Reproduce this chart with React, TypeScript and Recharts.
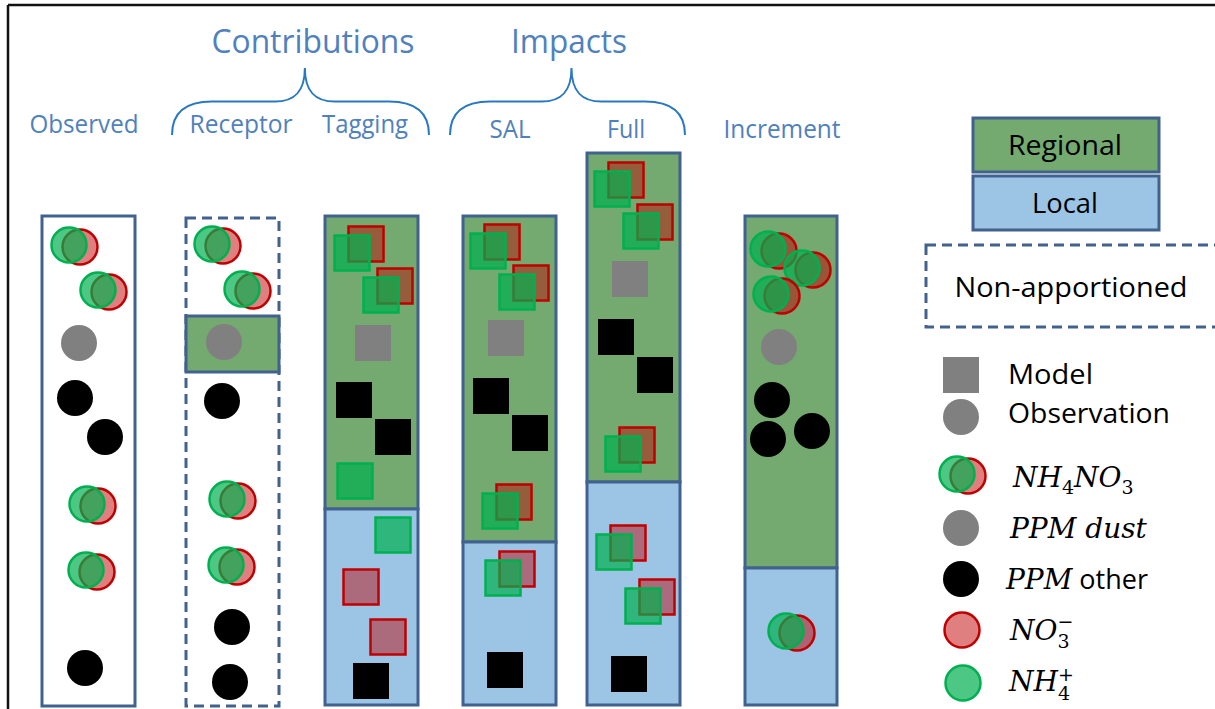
import React from 'react';
import { ScatterChart, Scatter, XAxis, YAxis, ReferenceArea, ReferenceLine } from 'recharts';

const W = 1215;
const H = 709;

// diagram columns (x across, y counted down from the top edge)
const columnNames = ['Observed', 'Receptor', 'Tagging', 'SAL', 'Full', 'Increment'];
const columnLeft = [42, 186, 325, 463, 587, 745];
const columnRight = [135, 279, 418, 556, 680, 837];
const columnTop = [216, 218, 216, 216, 153, 216];
const columnBottom = [706, 706, 705, 705, 705, 705];
// regional part ends / local part starts (0 = no split)
const columnSplit = [0, 0, 509, 542, 482, 568];
const receptorRegional = [316, 372];
const columnLabelX = [84, 241, 365, 510, 626, 782];
const columnLabelY = [133, 133, 133, 138, 138, 138];

const groupNames = ['Contributions', 'Impacts'];
const groupLabelX = [313, 569];
const groupLabelY = [53, 53];
const braceFrom = [172, 450];
const braceTo = [429, 685];
const braceTop = 68;
const braceBottom = 135;

// key boxes on the right
const keyBoxNames = ['Regional', 'Local', 'Non-apportioned'];
const keyBoxLeft = [973, 973, 926];
const keyBoxRight = [1159, 1159, 1225];
const keyBoxTop = [118, 176, 245];
const keyBoxBottom = [172, 230, 327];
const keyBoxLabelX = [1065, 1065, 1071];
const keyBoxLabelY = [155, 213, 297];

// observations (circles). NH4NO3 = green NH4+ circle with NO3- circle behind it
const obsNh4no3 = [
  [69, 245], [98, 290], [87, 504], [86, 570],
  [212, 244], [242, 289], [227, 499], [226, 565],
  [768, 249], [802, 268], [771, 294], [786, 631],
];
const obsDust = [[79, 343], [224, 342], [779, 347]];
const obsOther = [
  [75, 398], [105, 437], [85, 668],
  [222, 401], [232, 627], [230, 682],
  [772, 400], [768, 439], [812, 431],
];

// model (squares)
const modNh4no3 = [
  [352, 253], [381, 295],
  [488, 251], [517, 292], [500, 511], [503, 578],
  [612, 189], [641, 231], [623, 454], [614, 552], [643, 606],
];
const modNh4 = [[355, 481], [393, 535]];
const modNo3 = [[361, 587], [388, 637]];
const modDust = [[373, 343], [506, 338], [630, 279]];
const modOther = [
  [354, 400], [393, 437], [371, 681],
  [491, 396], [530, 433], [505, 670],
  [616, 337], [655, 375], [629, 674],
];

// legend symbols
const keyModel = [[961, 375]];
const keyGrey = [[961, 417], [961, 528]];
const keyPair = [[957, 474]];
const keyOther = [[961, 579]];
const keyNo3 = [[962, 630]];
const keyNh4 = [[963, 683]];
const legendText = ['Model', 'Observation', 'NH4NO3', 'PPM dust', 'PPM other', 'NO3-', 'NH4+'];
const legendTextX = [1008, 1008, 1013, 1010, 1006, 1010, 1009];
const legendTextY = [384, 423, 487, 538, 589, 640, 691];

const GREEN_BG = '#74a96f';
const BLUE_BG = '#9cc4e4';
const EDGE = '#41628f';
const TITLE = '#4f81bd';
const BRACE = '#2a78c2';
const RED = '#c00000';
const GREEN = '#00b050';
const GREY = '#808080';
const SANS = "'Open Sans', sans-serif";
const MATH = "'DejaVu Serif', serif";

const fit: Record<string, number> = {
  Contributions: 203, Impacts: 116, Observed: 109, Receptor: 103, Tagging: 86, SAL: 41,
  Full: 38, Increment: 117, Regional: 114, Local: 66, 'Non-apportioned': 233,
  Model: 85, Observation: 162,
};

const toPts = (a: number[][]) => a.map(([x, y]) => ({ x, y }));
const concat = (...a: number[][][]) => toPts(a.flat());

const blackCircle = (p: any) => <circle cx={p.cx} cy={p.cy} r={18} fill="#000" />;
const greyCircle = (p: any) => <circle cx={p.cx} cy={p.cy} r={18} fill={GREY} />;
const no3Circle = (p: any) => (
  <circle cx={p.cx} cy={p.cy} r={17.5} fill={RED} fillOpacity={0.5} stroke={RED} strokeWidth={2.5} />
);
const nh4Circle = (p: any) => (
  <circle cx={p.cx} cy={p.cy} r={17.5} fill={GREEN} fillOpacity={0.7} stroke={GREEN} strokeWidth={2.5} />
);
const pairCircle = (p: any) => (
  <g>
    {no3Circle({ cx: p.cx + 11, cy: p.cy + 2 })}
    {nh4Circle(p)}
  </g>
);

const plainSquare = (fill: string) => (p: any) => (
  <rect x={p.cx - 18} y={p.cy - 18} width={36} height={36} fill={fill} />
);
const no3Square = (p: any) => (
  <rect x={p.cx - 17.5} y={p.cy - 17.5} width={35} height={35} fill={RED} fillOpacity={0.45} stroke={RED} strokeWidth={2.5} />
);
const nh4Square = (p: any) => (
  <rect x={p.cx - 17.5} y={p.cy - 17.5} width={35} height={35} fill={GREEN} fillOpacity={0.7} stroke={GREEN} strokeWidth={2.5} />
);
const pairSquare = (p: any) => (
  <g>
    {no3Square({ cx: p.cx + 14, cy: p.cy - 9 })}
    {nh4Square(p)}
  </g>
);

const textShape = (color: string, size: number) => (p: any) => {
  const t = p.payload.text;
  return (
    <text x={p.cx} y={p.cy} textAnchor="middle" fontFamily={SANS} fontSize={size} fill={color}
      textLength={fit[t]} lengthAdjust="spacingAndGlyphs">
      {t}
    </text>
  );
};

const legendShape = (p: any) => {
  const t = p.payload.text;
  const x = p.cx;
  const y = p.cy;
  if (t === 'NH4NO3') {
    return (
      <text x={x} y={y} fontFamily={MATH} fontSize={28} fill="#000">
        <tspan fontStyle="italic">NH</tspan>
        <tspan fontSize={19} dy={7}>4</tspan>
        <tspan fontStyle="italic" dy={-7}>NO</tspan>
        <tspan fontSize={19} dy={7}>3</tspan>
      </text>
    );
  }
  if (t === 'PPM dust') {
    return <text x={x} y={y} fontFamily={MATH} fontStyle="italic" fontSize={28} fill="#000">PPM dust</text>;
  }
  if (t === 'PPM other') {
    return (
      <text x={x} y={y} fontSize={28} fill="#000">
        <tspan fontFamily={MATH} fontStyle="italic">PPM</tspan>
        <tspan fontFamily={SANS} fontSize={27}> other</tspan>
      </text>
    );
  }
  if (t === 'NO3-') {
    return (
      <text x={x} y={y} fontFamily={MATH} fontSize={28} fill="#000">
        <tspan fontStyle="italic">NO</tspan>
        <tspan fontSize={19} dy={8}>3</tspan>
        <tspan fontSize={19} dx={-12} dy={-20}>−</tspan>
      </text>
    );
  }
  if (t === 'NH4+') {
    return (
      <text x={x} y={y} fontFamily={MATH} fontSize={28} fill="#000">
        <tspan fontStyle="italic">NH</tspan>
        <tspan fontSize={19} dy={9}>4</tspan>
        <tspan fontSize={19} dx={-12} dy={-19}>+</tspan>
      </text>
    );
  }
  return (
    <text x={x} y={y} fontFamily={SANS} fontSize={27} fill="#000" textLength={fit[t]} lengthAdjust="spacingAndGlyphs">
      {t}
    </text>
  );
};

const braceShape = (p: any) => {
  const x0 = p.x;
  const x1 = p.x + p.width;
  const y0 = p.y;
  const y1 = p.y + p.height;
  const yh = (y0 + y1) / 2;
  const xm = x0 + p.width * 0.517;
  const d = `M ${x0} ${y1} C ${x0} ${yh + 12} ${x0 + 12} ${yh} ${x0 + 40} ${yh} L ${xm - 30} ${yh} C ${xm - 10} ${yh} ${xm} ${yh - 10} ${xm} ${y0} C ${xm} ${yh - 10} ${xm + 10} ${yh} ${xm + 30} ${yh} L ${x1 - 40} ${yh} C ${x1 - 12} ${yh} ${x1} ${yh + 12} ${x1} ${y1}`;
  return <path d={d} fill="none" stroke={BRACE} strokeWidth={2} />;
};

const columnAreas = columnNames.flatMap((name, i) => {
  const common = { x1: columnLeft[i], x2: columnRight[i], stroke: EDGE, strokeWidth: 3, fillOpacity: 1, ifOverflow: 'visible' as const };
  if (i === 0) {
    return [<ReferenceArea key={name} {...common} y1={columnTop[i]} y2={columnBottom[i]} fill="#fff" />];
  }
  if (i === 1) {
    return [
      <ReferenceArea key={name} {...common} y1={columnTop[i]} y2={columnBottom[i]} fill="#fff" strokeDasharray="10 6" />,
      <ReferenceArea key={name + '-reg'} {...common} y1={receptorRegional[0]} y2={receptorRegional[1]} fill={GREEN_BG} />,
    ];
  }
  return [
    <ReferenceArea key={name + '-reg'} {...common} y1={columnTop[i]} y2={columnSplit[i]} fill={GREEN_BG} />,
    <ReferenceArea key={name + '-loc'} {...common} y1={columnSplit[i]} y2={columnBottom[i]} fill={BLUE_BG} />,
  ];
});

const keyAreas = keyBoxNames.map((name, i) => (
  <ReferenceArea
    key={name}
    x1={keyBoxLeft[i]}
    x2={keyBoxRight[i]}
    y1={keyBoxTop[i]}
    y2={keyBoxBottom[i]}
    fill={i === 0 ? GREEN_BG : i === 1 ? BLUE_BG : 'none'}
    fillOpacity={1}
    stroke={EDGE}
    strokeWidth={3}
    strokeDasharray={i === 2 ? '10 6' : undefined}
    ifOverflow="visible"
  />
));

const braces = groupNames.map((name, i) => (
  <ReferenceArea key={'brace-' + name} x1={braceFrom[i]} x2={braceTo[i]} y1={braceTop} y2={braceBottom} shape={braceShape} ifOverflow="visible" />
));

const groupTitles = groupNames.map((text, i) => ({ x: groupLabelX[i], y: groupLabelY[i], text }));
const columnTitles = columnNames.map((text, i) => ({ x: columnLabelX[i], y: columnLabelY[i], text }));
const keyTitles = keyBoxNames.map((text, i) => ({ x: keyBoxLabelX[i], y: keyBoxLabelY[i], text }));
const legendTitles = legendText.map((text, i) => ({ x: legendTextX[i], y: legendTextY[i], text }));

export default function App() {
  return (
    <div style={{ width: W, height: H, background: '#fff', overflow: 'hidden' }}>
      <style>{'body{margin:0}'}</style>
      <ScatterChart width={W} height={H} margin={{ top: 0, right: 0, bottom: 0, left: 0 }}>
        <XAxis type="number" dataKey="x" domain={[0, W]} hide />
        <YAxis type="number" dataKey="y" domain={[0, H]} reversed hide />

        <ReferenceLine segment={[{ x: 8, y: 5 }, { x: W, y: 5 }]} stroke="#111" strokeWidth={2.5} ifOverflow="visible" />
        <ReferenceLine segment={[{ x: 8, y: 5 }, { x: 8, y: H }]} stroke="#111" strokeWidth={2.5} ifOverflow="visible" />

        {columnAreas}
        {keyAreas}
        {braces}

        <Scatter data={concat(obsOther, keyOther)} shape={blackCircle} isAnimationActive={false} />
        <Scatter data={concat(obsDust, keyGrey)} shape={greyCircle} isAnimationActive={false} />
        <Scatter data={concat(modOther)} shape={plainSquare('#000')} isAnimationActive={false} />
        <Scatter data={concat(modDust, keyModel)} shape={plainSquare(GREY)} isAnimationActive={false} />
        <Scatter data={concat(modNo3)} shape={no3Square} isAnimationActive={false} />
        <Scatter data={concat(modNh4)} shape={nh4Square} isAnimationActive={false} />
        <Scatter data={concat(modNh4no3)} shape={pairSquare} isAnimationActive={false} />
        <Scatter data={concat(keyNo3)} shape={no3Circle} isAnimationActive={false} />
        <Scatter data={concat(keyNh4)} shape={nh4Circle} isAnimationActive={false} />
        <Scatter data={concat(obsNh4no3, keyPair)} shape={pairCircle} isAnimationActive={false} />

        <Scatter data={groupTitles} shape={textShape(TITLE, 33)} isAnimationActive={false} />
        <Scatter data={columnTitles} shape={textShape(TITLE, 25)} isAnimationActive={false} />
        <Scatter data={keyTitles} shape={textShape('#000', 28)} isAnimationActive={false} />
        <Scatter data={legendTitles} shape={legendShape} isAnimationActive={false} />
      </ScatterChart>
    </div>
  );
}
